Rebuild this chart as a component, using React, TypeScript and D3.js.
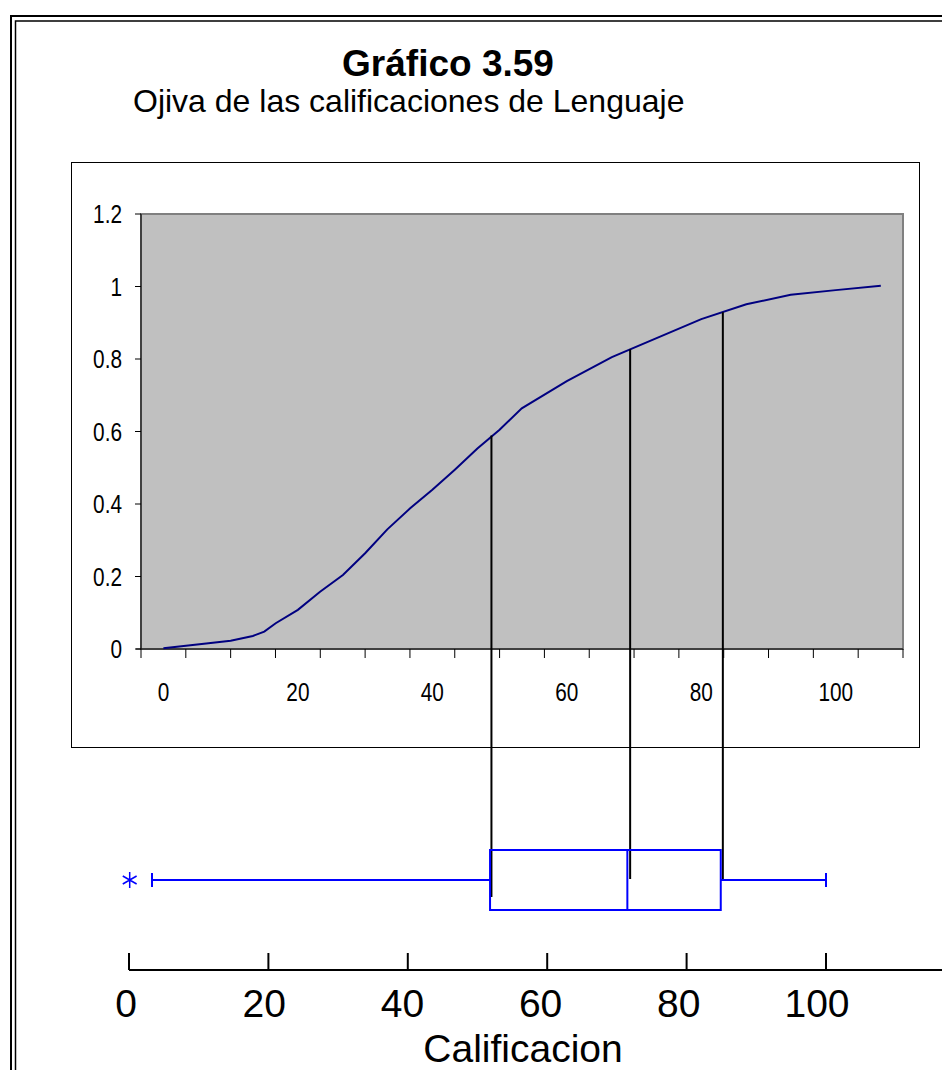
import React from 'react'
import { scaleLinear, line, range } from 'd3'

// ogive (cumulative relative frequency)
const ogiveX = [0, 6.7, 10, 13.3, 15, 16.7, 20, 23.3, 26.7, 30, 33.3, 36.7, 40, 43.3, 46.7, 50, 53.3, 60, 66.7, 80, 86.7, 93.3, 100, 106.7]
const ogiveY = [0.002, 0.016, 0.023, 0.036, 0.048, 0.071, 0.108, 0.158, 0.204, 0.264, 0.33, 0.388, 0.439, 0.494, 0.553, 0.605, 0.664, 0.739, 0.805, 0.91, 0.951, 0.977, 0.99, 1.002]

const yTicks = [0, 0.2, 0.4, 0.6, 0.8, 1, 1.2]
const yTickLabels = ['0', '0.2', '0.4', '0.6', '0.8', '1', '1.2']
const xTickLabels = [0, 20, 40, 60, 80, 100]

// boxplot of Calificacion
const boxStats = { low: 3.3, q1: 51.8, median: 71.5, q3: 84.9, high: 100 }
const outliers = [0.1]
const boxTicks = [0, 20, 40, 60, 80, 100]

// black guide lines from the ogive down to the box
const guideX = [52.0, 71.9, 85.2]
const guideTop = [0.589, 0.827, 0.929]

const W = 942
const H = 1070
const sans = "'Liberation Sans', Arial, sans-serif"

// condensed label, like Arial Narrow
const Narrow = ({ x, y, anchor, dy, children }: any) => (
  <text transform={`translate(${x},${y}) scale(0.8,1)`} dy={dy} textAnchor={anchor}
    fontFamily={sans} fontSize={26}>{children}</text>
)

const App = () => {
  const plot = { left: 141, right: 903, top: 214, bottom: 649 }
  const x = scaleLinear().domain([-10 / 3, 110]).range([plot.left, plot.right])
  const y = scaleLinear().domain([0, 1.2]).range([plot.bottom, plot.top])
  const minorTicks = range(0, 18).map(i => -10 / 3 + (i * 20) / 3)

  const curve = line<number>()
    .x((d, i) => x(ogiveX[i]))
    .y(d => y(d))

  const xb = scaleLinear().domain([0, 100]).range([129, 826])
  const xbLabel = scaleLinear().domain([0, 100]).range([126, 817])
  const boxTop = 850
  const boxBottom = 910
  const mid = 880
  const guideBottom = [897, 879, 880]

  const star = (cx: number, cy: number, r: number) => {
    const a = Math.cos(Math.PI / 6) * r
    const b = Math.sin(Math.PI / 6) * r
    return `M${cx},${cy - r}L${cx},${cy + r}M${cx - a},${cy - b}L${cx + a},${cy + b}M${cx - a},${cy + b}L${cx + a},${cy - b}`
  }

  return (
    <svg width={W} height={H} style={{ position: 'absolute', left: 0, top: 0, display: 'block', background: '#fff' }}>
      {/* double frame */}
      <rect x={11} y={16} width={1000} height={1100} fill="none" stroke="#000" strokeWidth={2} />
      <rect x={15.5} y={21} width={1000} height={1100} fill="none" stroke="#000" strokeWidth={1.5} />

      <text x={448} y={76} textAnchor="middle" fontFamily={sans} fontWeight="bold" fontSize={37}>Gráfico 3.59</text>
      <text x={133} y={112} fontFamily={sans} fontSize={32}>Ojiva de las calificaciones de Lenguaje</text>

      {/* chart area */}
      <rect x={71.5} y={162.5} width={848} height={585} fill="#fff" stroke="#000" strokeWidth={1} />
      <rect x={plot.left} y={plot.top} width={plot.right - plot.left} height={plot.bottom - plot.top}
        fill="#C0C0C0" stroke="#808080" strokeWidth={2} />

      {/* y axis */}
      <line x1={plot.left} x2={plot.left} y1={plot.top} y2={plot.bottom} stroke="#000" />
      {yTicks.map((t, i) => (
        <g key={'y' + i}>
          <line x1={plot.left - 6} x2={plot.left} y1={y(t)} y2={y(t)} stroke="#000" />
          <Narrow x={122} y={y(t)} dy="0.35em" anchor="end">{yTickLabels[i]}</Narrow>
        </g>
      ))}

      {/* x axis */}
      <line x1={plot.left - 5} x2={plot.right} y1={plot.bottom} y2={plot.bottom} stroke="#000" />
      {minorTicks.map((t, i) => (
        <line key={'t' + i} x1={x(t)} x2={x(t)} y1={plot.bottom} y2={plot.bottom + 9} stroke="#000" />
      ))}
      {xTickLabels.map(t => (
        <Narrow key={'x' + t} x={x(t)} y={701} anchor="middle">{t}</Narrow>
      ))}

      <path d={curve(ogiveY) || ''} fill="none" stroke="#000080" strokeWidth={2} />

      {/* guides */}
      {guideX.map((g, i) => (
        <line key={'g' + i} x1={xb(g)} x2={xb(g)} y1={y(guideTop[i])} y2={guideBottom[i]} stroke="#000" strokeWidth={2} />
      ))}

      {/* boxplot */}
      <g stroke="#0000FF" strokeWidth={2} fill="none">
        <line x1={xb(boxStats.low)} x2={xb(boxStats.q1)} y1={mid} y2={mid} />
        <line x1={xb(boxStats.q3)} x2={xb(boxStats.high)} y1={mid} y2={mid} />
        <line x1={xb(boxStats.low)} x2={xb(boxStats.low)} y1={mid - 7} y2={mid + 7} />
        <line x1={xb(boxStats.high)} x2={xb(boxStats.high)} y1={mid - 7} y2={mid + 7} />
        <rect x={xb(boxStats.q1)} y={boxTop} width={xb(boxStats.q3) - xb(boxStats.q1)} height={boxBottom - boxTop} />
        <line x1={xb(boxStats.median)} x2={xb(boxStats.median)} y1={boxTop} y2={boxBottom} />
        {outliers.map((o, i) => (
          <path key={'o' + i} d={star(xb(o), mid, 8)} strokeWidth={1.5} />
        ))}
      </g>

      {/* bottom axis */}
      <line x1={xb(0)} x2={W} y1={970} y2={970} stroke="#000" strokeWidth={2} />
      {boxTicks.map(t => (
        <g key={'b' + t}>
          <line x1={xb(t)} x2={xb(t)} y1={953} y2={970} stroke="#000" strokeWidth={2} />
          <text x={xbLabel(t)} y={1017} textAnchor="middle" fontFamily={sans} fontSize={39}>{t}</text>
        </g>
      ))}
      <text x={523} y={1062} textAnchor="middle" fontFamily={sans} fontSize={39}>Calificacion</text>
    </svg>
  )
}

export default App
